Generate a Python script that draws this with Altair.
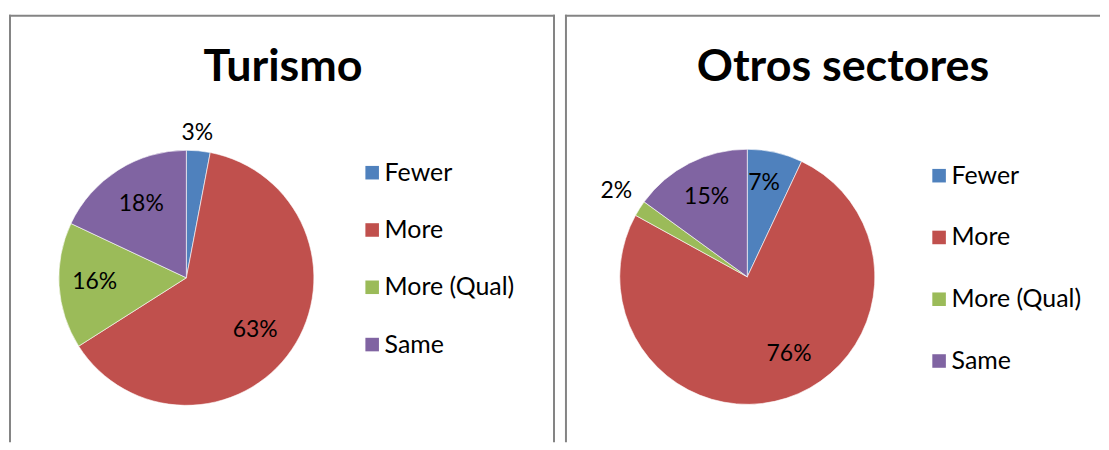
import altair as alt
import pandas as pd

# ---- data ----
categories = ["Fewer", "More", "More (Qual)", "Same"]
colors = ["#4F81BD", "#C0504D", "#9BBB59", "#8064A2"]

turismo_values = [3, 63, 16, 18]
turismo_labels = ["3%", "63%", "16%", "18%"]

otros_values = [7, 76, 2, 15]
otros_labels = ["7%", "76%", "2%", "15%"]

# label placement (style, not data): distance from pie centre and small angular nudge
turismo_label_r = [146, 87, 92, 87]
turismo_label_nudge = [-0.3, 0.9, 0.3, 0.3]
otros_label_r = [96, 88, 157, 90]
otros_label_nudge = [-0.7, -2.9, 0.2, 0.0]

FONT = "Lato"
BORDER = "#848484"


def border(x, x2, y, y2):
    return alt.Chart(pd.DataFrame({"a": [0]})).mark_rule(
        color=BORDER, strokeWidth=2
    ).encode(x=alt.value(x), x2=alt.value(x2), y=alt.value(y), y2=alt.value(y2))


def panel(title, values, labels, label_r, nudge, width, height, cx, cy, title_x,
          legend_x, legend_y, row_pad, right_border):
    df = pd.DataFrame({
        "category": categories,
        "value": values,
        "label": labels,
        "lr": label_r,
        "nudge": nudge,
        "idx": list(range(len(categories))),
    })
    base = alt.Chart(df)
    color = alt.Color(
        "category:N",
        scale=alt.Scale(domain=categories, range=colors),
        legend=alt.Legend(
            title=None, orient="none", legendX=legend_x, legendY=legend_y,
            symbolType="square", symbolSize=185, symbolStrokeWidth=0,
            labelFont=FONT, labelFontSize=25, labelColor="#000000",
            labelOffset=0, rowPadding=row_pad, labelLimit=300,
        ),
    )
    theta_scale = alt.Scale(domain=[0, 100])
    arcs = base.mark_arc(radius=128, stroke="#ffffff", strokeWidth=0.6).encode(
        theta=alt.Theta("value:Q", stack=True, scale=theta_scale),
        color=color,
        order=alt.Order("idx:Q"),
        x=alt.value(cx),
        y=alt.value(cy),
    )
    texts = base.transform_window(
        cum="sum(value)", sort=[alt.SortField("idx", order="ascending")]
    ).transform_calculate(
        mid="datum.cum - datum.value / 2 + datum.nudge"
    ).mark_text(font=FONT, fontSize=23, color="#000000").encode(
        theta=alt.Theta("mid:Q", stack=None, scale=theta_scale),
        radius=alt.Radius("lr:Q", scale=None),
        text="label:N",
        x=alt.value(cx),
        y=alt.value(cy),
    )
    ttl = alt.Chart(pd.DataFrame({"t": [title]})).mark_text(
        font=FONT, fontSize=45, fontWeight="bold", color="#000000",
        align="center", baseline="alphabetic",
    ).encode(text="t:N", x=alt.value(title_x), y=alt.value(66))

    rules = [border(0, width, 1, 1), border(1, 1, 0, height)]
    if right_border:
        rules.append(border(width - 1, width - 1, 0, height))
    return alt.layer(arcs, texts, ttl, *rules).properties(width=width, height=height)


left = panel("Turismo", turismo_values, turismo_labels, turismo_label_r, turismo_label_nudge,
             548, 429, 178, 264, 275, 352, 146, 31.5, True)
right = panel("Otros sectores", otros_values, otros_labels, otros_label_r, otros_label_nudge,
              537, 429, 183, 263, 279, 363, 149, 36, False)

chart = alt.hconcat(left, right, spacing=8).resolve_legend(
    color="independent"
).properties(
    padding={"left": 0, "top": 5, "right": 0, "bottom": 0},
    background="#ffffff",
).configure_view(stroke=None).configure_concat(spacing=8)

chart.save("out.html", embed_options={"renderer": "svg", "actions": False})
